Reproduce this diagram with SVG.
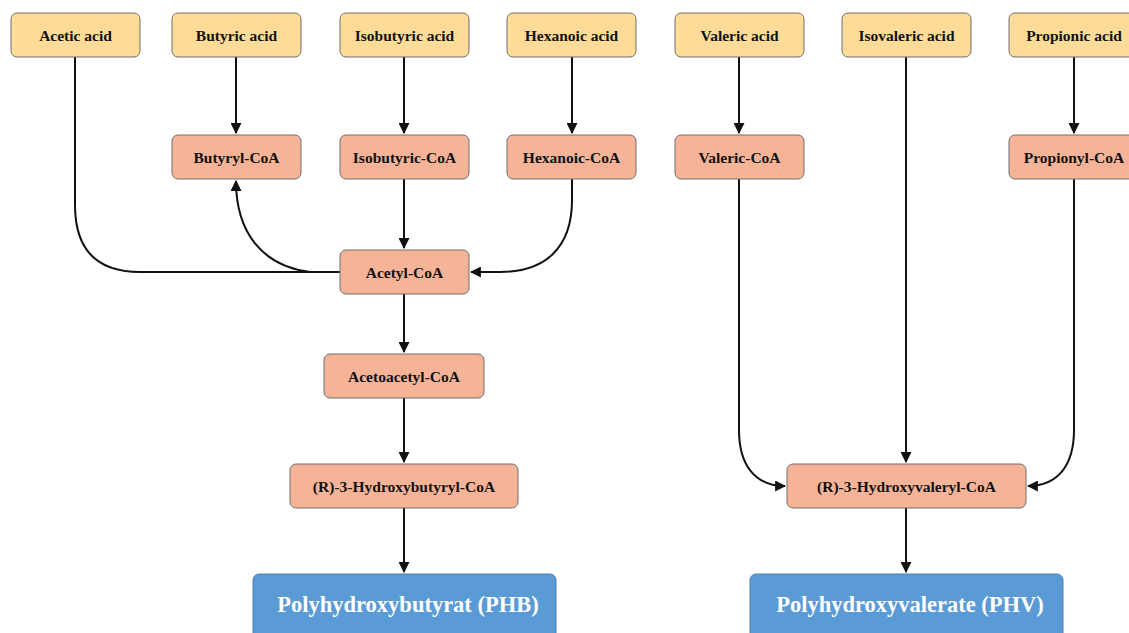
<svg xmlns="http://www.w3.org/2000/svg" width="1129" height="633" viewBox="0 0 1129 633">
<style>
.n rect{stroke:#6e6e6e;stroke-width:1}
.y rect{fill:#fedc97}
.s rect{fill:#f5b498}
.b rect{fill:#5b9bd5;stroke:#4a7fb0}
text{font-family:"Liberation Serif","Times New Roman",serif;font-weight:bold;font-size:15.5px;fill:#111;text-anchor:middle;dominant-baseline:central}
.b text{fill:#fff;font-size:22.5px}
#edges path{fill:none;stroke:#111;stroke-width:2}
</style>
<defs>
<marker id="ah" viewBox="0 0 10 10" refX="9" refY="5" markerWidth="11" markerHeight="11" markerUnits="userSpaceOnUse" orient="auto">
<path d="M0,0 L10,5 L0,10 z" fill="#111"/>
</marker>
</defs>
<rect width="1129" height="633" fill="#fff"/>
<g id="edges">
<path d="M75,57 L75,205 Q75,272 140,272 L340,272"/>
<path d="M340,272 L310,272 C262,266 236,232 236,181" marker-end="url(#ah)"/>
<path d="M572,179 L572,200 C572,248 545,272 500,272 L471,272" marker-end="url(#ah)"/>
<path d="M236,57 L236,133" marker-end="url(#ah)"/>
<path d="M404,57 L404,133" marker-end="url(#ah)"/>
<path d="M572,57 L572,133" marker-end="url(#ah)"/>
<path d="M739,57 L739,133" marker-end="url(#ah)"/>
<path d="M1074,57 L1074,133" marker-end="url(#ah)"/>
<path d="M404,179 L404,248" marker-end="url(#ah)"/>
<path d="M404,294 L404,352" marker-end="url(#ah)"/>
<path d="M404,398 L404,462" marker-end="url(#ah)"/>
<path d="M404,508 L404,572" marker-end="url(#ah)"/>
<path d="M739,179 L739,430 C739,465 755,486 785,486" marker-end="url(#ah)"/>
<path d="M906,57 L906,462" marker-end="url(#ah)"/>
<path d="M1074,179 L1074,430 C1074,465 1058,486 1028,486" marker-end="url(#ah)"/>
<path d="M906,508 L906,572" marker-end="url(#ah)"/>
</g>
<g id="acetic" class="n y"><rect x="11" y="13" width="129" height="44" rx="6"/><text x="75.5" y="35">Acetic acid</text></g>
<g id="butyric" class="n y"><rect x="172" y="13" width="129" height="44" rx="6"/><text x="236.5" y="35">Butyric acid</text></g>
<g id="isobutyric" class="n y"><rect x="340" y="13" width="129" height="44" rx="6"/><text x="404.5" y="35">Isobutyric acid</text></g>
<g id="hexanoic" class="n y"><rect x="507" y="13" width="129" height="44" rx="6"/><text x="571.5" y="35">Hexanoic acid</text></g>
<g id="valeric" class="n y"><rect x="675" y="13" width="129" height="44" rx="6"/><text x="739.5" y="35">Valeric acid</text></g>
<g id="isovaleric" class="n y"><rect x="842" y="13" width="129" height="44" rx="6"/><text x="906.5" y="35">Isovaleric acid</text></g>
<g id="propionic" class="n y"><rect x="1009" y="13" width="129" height="44" rx="6"/><text x="1074" y="35">Propionic acid</text></g>
<g id="butyrylcoa" class="n s"><rect x="172" y="135" width="129" height="44" rx="6"/><text x="236.5" y="157">Butyryl-CoA</text></g>
<g id="isobutyriccoa" class="n s"><rect x="340" y="135" width="129" height="44" rx="6"/><text x="404.5" y="157">Isobutyric-CoA</text></g>
<g id="hexanoiccoa" class="n s"><rect x="507" y="135" width="129" height="44" rx="6"/><text x="571.5" y="157">Hexanoic-CoA</text></g>
<g id="valericcoa" class="n s"><rect x="675" y="135" width="129" height="44" rx="6"/><text x="739.5" y="157">Valeric-CoA</text></g>
<g id="propionylcoa" class="n s"><rect x="1009" y="135" width="129" height="44" rx="6"/><text x="1074" y="157">Propionyl-CoA</text></g>
<g id="acetylcoa" class="n s"><rect x="340" y="250" width="129" height="44" rx="6"/><text x="404.5" y="272">Acetyl-CoA</text></g>
<g id="acetoacetylcoa" class="n s"><rect x="324" y="354" width="160" height="44" rx="6"/><text x="404" y="376">Acetoacetyl-CoA</text></g>
<g id="r3hb" class="n s"><rect x="290" y="464" width="228" height="44" rx="6"/><text x="404" y="486">(R)-3-Hydroxybutyryl-CoA</text></g>
<g id="r3hv" class="n s"><rect x="787" y="464" width="239" height="44" rx="6"/><text x="906.5" y="486">(R)-3-Hydroxyvaleryl-CoA</text></g>
<g id="phb" class="n b"><rect x="253" y="574" width="303" height="70" rx="6"/><text x="408" y="604">Polyhydroxybutyrat (PHB)</text></g>
<g id="phv" class="n b"><rect x="750" y="574" width="313" height="70" rx="6"/><text x="910" y="604">Polyhydroxyvalerate (PHV)</text></g>
</svg>
